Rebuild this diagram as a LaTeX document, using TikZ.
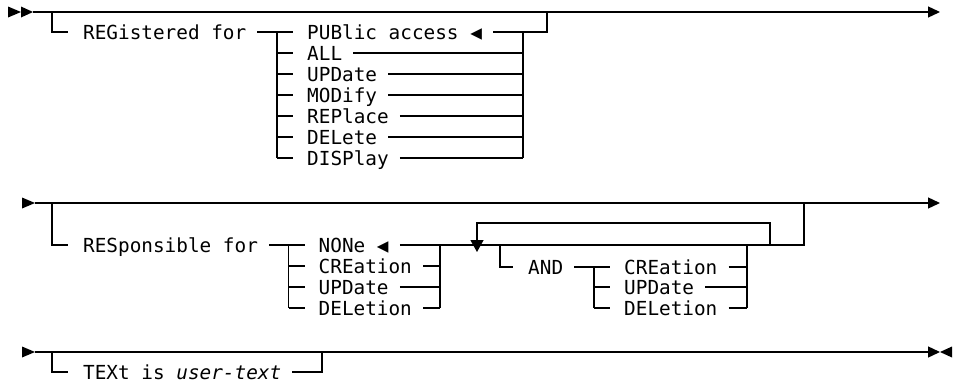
\documentclass[tikz,border=0pt]{standalone}
\usepackage{fontspec}
\setmonofont{DejaVu Sans Mono}
\usetikzlibrary{arrows.meta}

\begin{document}
\begin{tikzpicture}[x=1pt, y=-1pt,
  kw/.style={font=\ttfamily\fontsize{19.35pt}{21pt}\selectfont, inner sep=0pt, text height=14pt, text depth=0pt, anchor=west},
  rail/.style={line width=1.3pt},
  railend/.style={-{Triangle[length=12pt,width=11pt]}},
  loopend/.style={-{Triangle[length=12pt,width=13pt]}}]
\useasboundingbox (0,0) rectangle (958,383);

% first clause
\coordinate (a1) at (33,12);
\coordinate (z1) at (940,12);
\coordinate (b1) at (52,12);
\coordinate (j1) at (277,32);
\coordinate (k1) at (523,32);
\coordinate (m1) at (547,12);
\fill (8,6.5) -- (21,12) -- (8,17.5) -- cycle;
\fill (21,6.5) -- (33,12) -- (21,17.5) -- cycle;
\draw[rail, railend] (a1) -- (z1);
\node[kw] (reg) at (83,32) {REGistered for};
\node[kw] (pub) at (307,32) {PUBlic access ◀};
\node[kw] (all) at (307,53) {ALL};
\node[kw] (upd) at (307,74) {UPDate};
\node[kw] (mod) at (307,95) {MODify};
\node[kw] (rep) at (307,116) {REPlace};
\node[kw] (del) at (307,137) {DELete};
\node[kw] (dsp) at (307,158) {DISPlay};
\draw[rail] (b1) |- ([xshift=-15pt]reg.west);
\draw[rail] ([xshift=11pt]reg.east) -- ([xshift=-14pt]pub.west);
\draw[rail] (j1) -- (j1 |- dsp.west);
\draw[rail] (j1 |- all.west) -- ([xshift=-14pt]all.west);
\draw[rail] (j1 |- upd.west) -- ([xshift=-14pt]upd.west);
\draw[rail] (j1 |- mod.west) -- ([xshift=-14pt]mod.west);
\draw[rail] (j1 |- rep.west) -- ([xshift=-14pt]rep.west);
\draw[rail] (j1 |- del.west) -- ([xshift=-14pt]del.west);
\draw[rail] (j1 |- dsp.west) -- ([xshift=-14pt]dsp.west);
\draw[rail] ([xshift=11pt]pub.east) -| (m1);
\draw[rail] (k1) -- (k1 |- dsp.east);
\draw[rail] ([xshift=11pt]all.east) -- (k1 |- all.east);
\draw[rail] ([xshift=11pt]upd.east) -- (k1 |- upd.east);
\draw[rail] ([xshift=11pt]mod.east) -- (k1 |- mod.east);
\draw[rail] ([xshift=11pt]rep.east) -- (k1 |- rep.east);
\draw[rail] ([xshift=11pt]del.east) -- (k1 |- del.east);
\draw[rail] ([xshift=11pt]dsp.east) -- (k1 |- dsp.east);

% second clause
\coordinate (a2) at (35,203);
\coordinate (z2) at (940,203);
\coordinate (b2) at (52,203);
\coordinate (j2) at (288.5,245);
\coordinate (k2) at (440,245);
\coordinate (q2) at (804,203);
\coordinate (l2) at (770,245);
\coordinate (t2) at (770,223);
\coordinate (d2) at (477,252);
\coordinate (c2) at (500,245);
\coordinate (j3) at (594,267);
\coordinate (k3) at (747,245);
\fill (22,197.5) -- (35,203) -- (22,208.5) -- cycle;
\draw[rail, railend] (a2) -- (z2);
\node[kw] (res) at (83,245) {RESponsible for};
\node[kw] (non) at (318.5,245) {NONe ◀};
\node[kw] (cre) at (318.5,266) {CREation};
\node[kw] (upt) at (318.5,287) {UPDate};
\node[kw] (dln) at (318.5,308) {DELetion};
\draw[rail] (b2) |- ([xshift=-15pt]res.west);
\draw[rail] ([xshift=11pt]res.east) -- ([xshift=-14pt]non.west);
\draw[rail] (j2) -- (j2 |- dln.west);
\draw[rail] (j2 |- cre.west) -- ([xshift=-14pt]cre.west);
\draw[rail] (j2 |- upt.west) -- ([xshift=-14pt]upt.west);
\draw[rail] (j2 |- dln.west) -- ([xshift=-14pt]dln.west);
\draw[rail] ([xshift=11pt]non.east) -- (k2);
\draw[rail] (k2) -- (k2 |- dln.east);
\draw[rail] ([xshift=11pt]cre.east) -- (k2 |- cre.east);
\draw[rail] ([xshift=11pt]upt.east) -- (k2 |- upt.east);
\draw[rail] ([xshift=11pt]dln.east) -- (k2 |- dln.east);
\draw[rail] (k2) -| (q2);
\draw[rail, loopend] (l2) -- (t2) -| (d2);
% repeated AND group
\node[kw] (and) at (528,267) {AND};
\node[kw] (cr3) at (624,267) {CREation};
\node[kw] (up3) at (624,287) {UPDate};
\node[kw] (dl3) at (624,308) {DELetion};
\draw[rail] (c2) |- ([xshift=-15pt]and.west);
\draw[rail] ([xshift=11pt]and.east) -- ([xshift=-14pt]cr3.west);
\draw[rail] (j3) -- (j3 |- dl3.west);
\draw[rail] (j3 |- up3.west) -- ([xshift=-14pt]up3.west);
\draw[rail] (j3 |- dl3.west) -- ([xshift=-14pt]dl3.west);
\draw[rail] (k3) -- (k3 |- dl3.east);
\draw[rail] ([xshift=11pt]cr3.east) -- (k3 |- cr3.east);
\draw[rail] ([xshift=11pt]up3.east) -- (k3 |- up3.east);
\draw[rail] ([xshift=11pt]dl3.east) -- (k3 |- dl3.east);

% third clause
\coordinate (a3) at (35,352);
\coordinate (z3) at (940,352);
\coordinate (b3) at (52,352);
\coordinate (c3) at (322,352);
\fill (22,346.5) -- (35,352) -- (22,357.5) -- cycle;
\fill (952,346.5) -- (940,352) -- (952,357.5) -- cycle;
\draw[rail, railend] (a3) -- (z3);
\node[kw] (txt) at (83,372) {TEXt is \textit{user-text}};
\draw[rail] (b3) |- ([xshift=-15pt]txt.west);
\draw[rail] ([xshift=11pt]txt.east) -| (c3);
\end{tikzpicture}
\end{document}
